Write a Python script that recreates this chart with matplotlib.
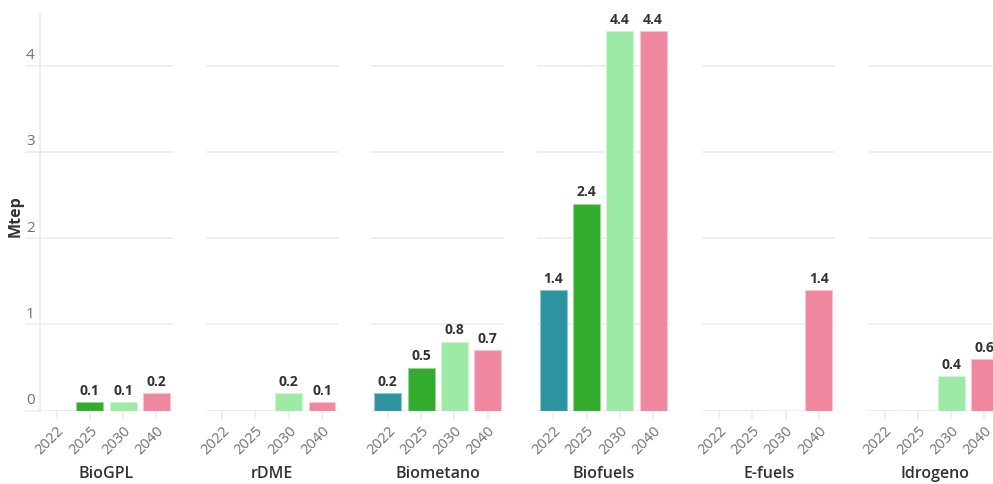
import matplotlib
matplotlib.use("Agg")
import matplotlib.pyplot as plt
import matplotlib.transforms as mtransforms

plt.rcParams['font.family'] = ['Open Sans', 'DejaVu Sans']

# Data (Mtep)
groups = ["BioGPL", "rDME", "Biometano", "Biofuels", "E-fuels", "Idrogeno"]
years = ["2022", "2025", "2030", "2040"]
v2022 = [0.0, 0.0, 0.2, 1.4, 0.0, 0.0]
v2025 = [0.1, 0.0, 0.5, 2.4, 0.0, 0.0]
v2030 = [0.1, 0.2, 0.8, 4.4, 0.0, 0.4]
v2040 = [0.2, 0.1, 0.7, 4.4, 1.4, 0.6]
y_ticks = [0, 1, 2, 3, 4]

year_colors = ["#2e93a0", "#33ab2f", "#9deaa7", "#ef87a1"]
edge_colors = ["#8fc9d0", "#9bd597", "#d2f5d6", "#f8c5d1"]
grid_color = "#ececec"
text_dark = "#333333"
text_gray = "#707070"

W, H = 993, 484
fig = plt.figure(figsize=(W / 100, H / 100), dpi=100)

panel_left0 = 40
panel_step = 165.6
panel_w = 133
y_zero_px = 410.7
unit_px = 86.3
ymax = 4.6
axes_h_px = ymax * unit_px

series = [v2022, v2025, v2030, v2040]

for gi, name in enumerate(groups):
    left = panel_left0 + gi * panel_step
    bottom_px = H - y_zero_px
    ax = fig.add_axes([left / W, bottom_px / H, panel_w / W, axes_h_px / H])
    ax.set_xlim(-0.5, 3.5)
    ax.set_ylim(0, ymax)
    for s in ax.spines.values():
        s.set_visible(False)

    # horizontal grid (including zero line)
    for t in y_ticks:
        ax.axhline(t, color=grid_color, lw=1.2, zorder=0)

    vals = [s[gi] for s in series]
    ax.bar(range(4), vals, width=0.81, color=year_colors,
           edgecolor=edge_colors, linewidth=0.8, zorder=2)
    for i, v in enumerate(vals):
        if v > 0:
            ax.annotate(f"{v:.1f}", (i, v), xytext=(0, 3), textcoords="offset points",
                        ha="center", va="bottom", fontsize=10, fontweight="bold",
                        color=text_dark)

    ax.set_xticks(range(4))
    ax.set_xticklabels(years, rotation=45, ha="right", rotation_mode="anchor",
                       fontsize=10.5, color=text_gray)
    ax.tick_params(axis="x", length=6, color=grid_color, width=1.2, pad=3)

    ax.set_yticks([])
    if gi == 0:
        ax.spines["left"].set_visible(True)
        ax.spines["left"].set_color(grid_color)
        ax.spines["left"].set_linewidth(1.2)
        trans = mtransforms.blended_transform_factory(ax.transAxes, ax.transData)
        for t in y_ticks:
            ax.plot([-14 / panel_w, 0], [t, t], transform=trans, color=grid_color,
                    lw=1.2, clip_on=False, zorder=0)
            ax.text(-14 / panel_w, t + 0.03, str(t), transform=trans, ha="left",
                    va="bottom", fontsize=11, color=text_gray)
        ax.text(-24 / panel_w, 2.25, "Mtep", transform=trans, rotation=90,
                ha="center", va="center", fontsize=11.5, fontweight="bold",
                color=text_dark)

    ax.text(0.5, -(474 - y_zero_px) / axes_h_px, name, transform=ax.transAxes,
            ha="center", va="center", fontsize=11.5, fontweight="semibold",
            color=text_dark)

fig.savefig("out.png", dpi=100)
